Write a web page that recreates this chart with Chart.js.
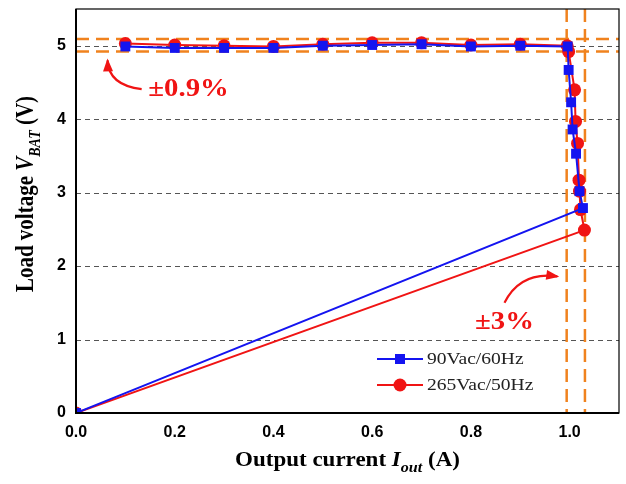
<!DOCTYPE html>
<html>
<head>
<meta charset="utf-8">
<script src="https://cdn.jsdelivr.net/npm/chart.js@4.4.0/dist/chart.umd.min.js"></script>
<style>
  html, body { margin: 0; padding: 0; background: #fff; }
  #wrap { width: 626px; height: 484px; }
</style>
</head>
<body>
<div id="wrap"><canvas id="chart" width="626" height="484"></canvas></div>
<script>
// Output current (A) and load voltage (V) for both input conditions
const current90 = [0.1, 0.2, 0.3, 0.4, 0.5, 0.6, 0.7, 0.8, 0.9, 0.996, 0.998, 1.003, 1.006, 1.013, 1.02, 1.027, 0];
const voltage90 = [4.99, 4.97, 4.97, 4.97, 5.0, 5.01, 5.02, 4.99, 5.0, 4.99, 4.67, 4.23, 3.86, 3.53, 3.02, 2.79, 0];
const current265 = [0.1, 0.2, 0.3, 0.4, 0.5, 0.6, 0.7, 0.8, 0.9, 0.995, 0.998, 1.01, 1.012, 1.016, 1.019, 1.02, 1.022, 1.03, 0];
const voltage265 = [5.03, 5.01, 5.0, 4.99, 5.02, 5.04, 5.04, 5.01, 5.02, 5.0, 4.92, 4.4, 3.97, 3.67, 3.17, 3.02, 2.77, 2.49, 0];

const xTicks = [0, 0.2, 0.4, 0.6, 0.8, 1.0];
const yTicks = [0, 1, 2, 3, 4, 5];
const gridY = [1, 2, 3, 4, 5];
const bandY = [4.92, 5.09];   // ±0.9% limits
const bandX = [0.994, 1.031]; // ±3% limits

const seriesNames = ['90Vac/60Hz', '265Vac/50Hz'];
const BLUE = '#1414f0';
const RED = '#f01414';
const ORANGE = '#f0821e';
const STRETCH = 1.15; // the source figure is a bit wider than tall

function toPoints(xs, ys) {
  return xs.map((x, i) => ({ x: x, y: ys[i] }));
}

// draw text made of several font runs (for italic subscripts)
function drawRich(ctx, parts, x, y) {
  let total = 0;
  parts.forEach(p => { ctx.font = p.font; total += ctx.measureText(p.t).width; });
  let cx = x - total / 2;
  ctx.textAlign = 'left';
  ctx.textBaseline = 'alphabetic';
  parts.forEach(p => {
    ctx.font = p.font;
    ctx.fillText(p.t, cx, y + (p.dy || 0));
    cx += ctx.measureText(p.t).width;
  });
}

function arrow(ctx, sx, sy, qx, qy, ex, ey) {
  ctx.beginPath();
  ctx.moveTo(sx, sy);
  ctx.quadraticCurveTo(qx, qy, ex, ey);
  ctx.stroke();
  const a = Math.atan2(ey - qy, ex - qx);
  const len = 11, half = 5;
  ctx.beginPath();
  ctx.moveTo(ex + Math.cos(a) * 2, ey + Math.sin(a) * 2);
  ctx.lineTo(ex - Math.cos(a) * len - Math.sin(a) * half, ey - Math.sin(a) * len + Math.cos(a) * half);
  ctx.lineTo(ex - Math.cos(a) * len + Math.sin(a) * half, ey - Math.sin(a) * len - Math.cos(a) * half);
  ctx.closePath();
  ctx.fill();
}

function wideText(ctx, text, x, y) {
  ctx.save();
  ctx.translate(x, y);
  ctx.scale(STRETCH, 1);
  ctx.fillText(text, 0, 0);
  ctx.restore();
}

const decorations = {
  id: 'decorations',
  beforeDatasetsDraw(chart) {
    const ctx = chart.ctx;
    const area = chart.chartArea;
    const xs = chart.scales.x, ys = chart.scales.y;
    ctx.save();
    // gray dashed grid
    ctx.strokeStyle = '#555';
    ctx.lineWidth = 1.2;
    ctx.setLineDash([5, 4]);
    gridY.forEach(v => {
      const py = Math.round(ys.getPixelForValue(v)) + 0.5;
      ctx.beginPath();
      ctx.moveTo(area.left, py);
      ctx.lineTo(area.right, py);
      ctx.stroke();
    });
    // orange tolerance lines
    ctx.strokeStyle = ORANGE;
    ctx.lineWidth = 2.5;
    ctx.setLineDash([13, 7]);
    bandY.forEach(v => {
      const py = ys.getPixelForValue(v);
      ctx.beginPath();
      ctx.moveTo(area.left, py);
      ctx.lineTo(area.right, py);
      ctx.stroke();
    });
    bandX.forEach(v => {
      const px = xs.getPixelForValue(v);
      ctx.beginPath();
      ctx.moveTo(px, area.top);
      ctx.lineTo(px, area.bottom);
      ctx.stroke();
    });
    ctx.restore();
  },
  afterDraw(chart) {
    const ctx = chart.ctx;
    const area = chart.chartArea;
    const xs = chart.scales.x, ys = chart.scales.y;
    const X = v => xs.getPixelForValue(v);
    const Y = v => ys.getPixelForValue(v);
    ctx.save();
    // frame
    ctx.setLineDash([]);
    ctx.strokeStyle = '#000';
    ctx.lineWidth = 1.2;
    ctx.strokeRect(area.left, area.top, area.right - area.left, area.bottom - area.top);
    ctx.lineWidth = 2;
    ctx.beginPath();
    ctx.moveTo(area.left, area.top);
    ctx.lineTo(area.left, area.bottom);
    ctx.lineTo(area.right, area.bottom);
    ctx.stroke();

    // annotations
    ctx.fillStyle = RED;
    ctx.strokeStyle = RED;
    ctx.lineWidth = 2.2;
    ctx.font = 'bold 25px "Liberation Serif"';
    ctx.textAlign = 'center';
    ctx.textBaseline = 'middle';
    wideText(ctx, '\u00b10.9%', X(0.228), Y(4.40));
    arrow(ctx, X(0.133), Y(4.41), X(0.066), Y(4.46), X(0.064), Y(4.80));
    wideText(ctx, '\u00b13%', X(0.868), Y(1.23));
    arrow(ctx, X(0.868), Y(1.50), X(0.9), Y(1.93), X(0.975), Y(1.86));

    // legend
    const rows = [
      { y: 359, color: BLUE, style: 'rect' },
      { y: 385, color: RED, style: 'circle' }
    ];
    rows.forEach((r, i) => {
      ctx.strokeStyle = r.color;
      ctx.fillStyle = r.color;
      ctx.lineWidth = 2;
      ctx.beginPath();
      ctx.moveTo(377, r.y);
      ctx.lineTo(423, r.y);
      ctx.stroke();
      if (r.style === 'rect') {
        ctx.fillRect(395, r.y - 5, 10, 10);
      } else {
        ctx.beginPath();
        ctx.arc(400, r.y, 6.5, 0, Math.PI * 2);
        ctx.fill();
      }
      ctx.fillStyle = '#222';
      ctx.font = '17px "Liberation Serif"';
      ctx.textAlign = 'left';
      ctx.textBaseline = 'middle';
      wideText(ctx, seriesNames[i], 427, r.y + 1);
    });

    // axis titles
    ctx.fillStyle = '#000';
    ctx.save();
    ctx.translate((area.left + area.right) / 2, 466);
    ctx.scale(STRETCH, 1);
    drawRich(ctx, [
      { t: 'Output current ', font: 'bold 20px "Liberation Serif"' },
      { t: 'I', font: 'italic bold 20px "Liberation Serif"' },
      { t: 'out', font: 'italic bold 14px "Liberation Serif"', dy: 6 },
      { t: ' (A)', font: 'bold 20px "Liberation Serif"' }
    ], 0, 0);
    ctx.restore();
    ctx.save();
    ctx.translate(33, 194);
    ctx.scale(STRETCH, 1);
    ctx.rotate(-Math.PI / 2);
    drawRich(ctx, [
      { t: 'Load voltage ', font: 'bold 21px "Liberation Serif"' },
      { t: 'V', font: 'italic bold 21px "Liberation Serif"' },
      { t: 'BAT', font: 'italic bold 14px "Liberation Serif"', dy: 6 },
      { t: ' (V)', font: 'bold 21px "Liberation Serif"' }
    ], 0, 0);
    ctx.restore();
    ctx.restore();
  }
};

const ctx = document.getElementById('chart').getContext('2d');
new Chart(ctx, {
  type: 'line',
  data: {
    datasets: [
      {
        label: seriesNames[0],
        data: toPoints(current90, voltage90),
        borderColor: BLUE,
        backgroundColor: BLUE,
        borderWidth: 2,
        pointStyle: 'rect',
        pointRadius: 7,
        pointBorderWidth: 0,
        tension: 0,
        clip: 0
      },
      {
        label: seriesNames[1],
        data: toPoints(current265, voltage265),
        borderColor: RED,
        backgroundColor: RED,
        borderWidth: 2,
        pointStyle: 'circle',
        pointRadius: 6.5,
        pointBorderWidth: 0,
        tension: 0,
        clip: 0
      }
    ]
  },
  options: {
    responsive: false,
    animation: false,
    layout: { padding: { top: 9, right: 6, left: 0, bottom: 0 } },
    plugins: {
      legend: { display: false },
      tooltip: { enabled: false }
    },
    scales: {
      x: {
        type: 'linear',
        min: 0,
        max: 1.1,
        grid: { display: false, drawTicks: false },
        border: { display: false },
        afterBuildTicks: s => { s.ticks = xTicks.map(v => ({ value: v })); },
        afterFit: s => { s.height = 71; s.paddingLeft = 0; s.paddingRight = 0; },
        ticks: {
          padding: 10,
          color: '#000',
          font: { family: '"Liberation Sans"', weight: 'bold', size: 16 },
          callback: v => v.toFixed(1)
        }
      },
      y: {
        type: 'linear',
        min: 0,
        max: 5.5,
        grid: { display: false, drawTicks: false },
        border: { display: false },
        afterBuildTicks: s => { s.ticks = yTicks.map(v => ({ value: v })); },
        afterFit: s => { s.width = 76; s.paddingTop = 0; s.paddingBottom = 0; },
        ticks: {
          padding: 10,
          color: '#000',
          font: { family: '"Liberation Sans"', weight: 'bold', size: 16 },
          callback: v => String(v)
        }
      }
    }
  },
  plugins: [decorations]
});
</script>
</body>
</html>
